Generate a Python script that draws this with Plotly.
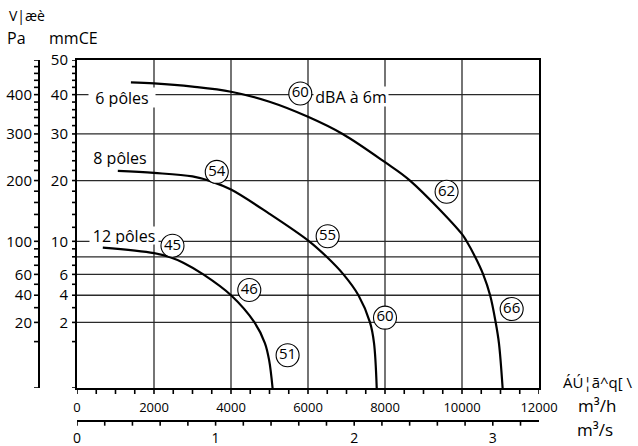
import numpy as np
import plotly.graph_objects as go

# ---------------- data (mmCE vs m3/h) ----------------
six_x = [1400, 2000, 3000, 4000, 5000, 6000, 6900, 8000, 8650, 10000, 10120, 10340, 10550, 10730, 10875, 10960, 11055]
six_y = [43.4, 43.1, 42.2, 40.8, 38.1, 34.2, 30.0, 23.7, 20.0, 11.0, 10.0, 8.0, 6.0, 4.0, 2.0, 0.93, 0.0]

eight_x = [1060, 2000, 3000, 3500, 4000, 5000, 6030, 6485, 6920, 7310, 7610, 7714, 7785]
eight_y = [21.9, 21.5, 20.8, 19.8, 18.3, 14.1, 10.0, 8.0, 6.0, 4.0, 2.0, 0.95, 0.0]

twelve_x = [670, 2000, 2420, 2760, 3280, 4000, 4610, 4880, 4990, 5080]
twelve_y = [9.15, 8.45, 7.95, 7.3, 6.0, 4.0, 2.0, 0.94, 0.36, 0.0]

# circled dBA values
db_x = [5800, 3630, 2480, 6510, 4475, 5470, 8000, 9600, 11290]
db_y = [40.3, 21.7, 9.4, 10.7, 4.46, 0.5, 2.3, 17.9, 2.9]
db_t = ["60", "54", "45", "55", "46", "51", "60", "62", "66"]

# axis ticks / grid
mmce_labels = [2, 4, 6, 10, 20, 30, 40, 50]
mmce_grid = [2, 4, 6, 8, 10, 20, 30, 40]
mmce_minor = list(range(0, 10)) + list(range(10, 51, 2))
pa_labels = [20, 40, 60, 100, 200, 300, 400]
pa_minor = list(range(0, 100, 10)) + list(range(100, 501, 20))
x_labels = [0, 2000, 4000, 6000, 8000, 10000, 12000]
x_grid = [2000, 4000, 6000, 8000, 10000]
x_minor = list(range(0, 12001, 500))
ms_labels = [0, 1, 2, 3]
ms_minor = [0, 0.2, 0.4, 0.6, 0.8, 1, 1.2, 1.4, 1.6, 1.8, 2, 2.2, 2.4, 2.6, 2.8, 3, 3.2]

# ---------------- layout helpers ----------------
W, H = 638, 446
ML, MR, MT, MB = 0, 99, 60, 0
PW = W - ML - MR
PH = H - MT - MB


def px(xp):
    return (xp - ML) / PW


def py(yp):
    return (H - MB - yp) / PH


sq = lambda v: np.sqrt(np.asarray(v, dtype=float))
FONT = "Open Sans"
YMAX = float(np.sqrt(50))
XMAX = 12000
MSMAX = 12000 / 3600
M3H_PER_M3S = 3600
GRID = dict(color="#2a2a2a", width=1.3)
TICK = dict(color="black", width=1.6)

X_AXIS_POS = py(388)      # m3/h axis (bottom of plot)
MS_AXIS_POS = py(420.7)   # m3/s axis
MMCE_AXIS_POS = px(77)    # mmCE axis (left of plot)
PA_AXIS_POS = px(39)      # Pa axis

fig = go.Figure()
line_style = dict(color="black", width=2.2, shape="spline", smoothing=1.0)
for xs, ys in [(six_x, six_y), (eight_x, eight_y), (twelve_x, twelve_y)]:
    fig.add_trace(go.Scatter(x=xs, y=sq(ys), mode="lines", line=line_style,
                             showlegend=False, hoverinfo="skip"))

fig.add_trace(go.Scatter(
    x=db_x, y=sq(db_y), mode="markers+text", text=db_t,
    textposition="middle center",
    textfont=dict(family=FONT, size=15, color="black"),
    marker=dict(symbol="circle", size=23, color="white",
                line=dict(color="black", width=1.1)),
    showlegend=False, hoverinfo="skip", cliponaxis=False))

# dummy trace so that the secondary axes are drawn
fig.add_trace(go.Scatter(x=[None], y=[None], xaxis="x2", yaxis="y2",
                         showlegend=False, hoverinfo="skip"))

# grid lines through the axes' data coordinates
for v in mmce_grid:
    fig.add_shape(type="line", xref="x", yref="y", x0=0, x1=XMAX,
                  y0=float(np.sqrt(v)), y1=float(np.sqrt(v)), line=GRID, layer="below")
for v in x_grid:
    fig.add_shape(type="line", xref="x", yref="y", x0=v, x1=v,
                  y0=0, y1=YMAX, line=GRID, layer="below")


# tick marks (data-anchored, pixel length)
def xtick(v, ypos, length):
    fig.add_shape(type="line", xref="x", x0=v, x1=v, yref="paper",
                  ysizemode="pixel", yanchor=ypos, y0=0, y1=-length, line=TICK)


def ytick(v, xpos, length):
    fig.add_shape(type="line", yref="y", y0=v, y1=v, xref="paper",
                  xsizemode="pixel", xanchor=xpos, x0=0, x1=-length, line=TICK)


for v in x_minor:
    xtick(v, X_AXIS_POS, 6)
for v in ms_minor:
    xtick(v * M3H_PER_M3S, MS_AXIS_POS, 5)
for v in mmce_minor:
    ytick(float(np.sqrt(v)), MMCE_AXIS_POS, 5)
for v in pa_minor:
    ytick(float(np.sqrt(v / 10)), PA_AXIS_POS, 5)

xdom = [px(77), px(539)]
ydom = [py(388), py(60)]
common = dict(zeroline=False, fixedrange=True, showgrid=False, tickmode="array", ticks="")

fig.update_layout(
    width=W, height=H,
    margin=dict(l=ML, r=MR, t=MT, b=MB, autoexpand=False),
    paper_bgcolor="white", plot_bgcolor="white",
    font=dict(family=FONT, color="black"),
    xaxis=dict(domain=xdom, range=[0, XMAX], tickvals=x_labels,
               ticktext=[str(v) for v in x_labels], ticklabelstandoff=6,
               tickfont=dict(size=13),
               showline=True, linecolor="black", linewidth=2, mirror=True, **common),
    yaxis=dict(domain=ydom, range=[0, YMAX], tickvals=[float(v) for v in sq(mmce_labels)],
               ticktext=[str(v) for v in mmce_labels], ticklabelstandoff=4,
               tickfont=dict(size=15),
               showline=True, linecolor="black", linewidth=2, mirror=True, **common),
    yaxis2=dict(overlaying="y", anchor="free", position=PA_AXIS_POS, side="left",
                range=[0, YMAX], tickvals=[float(v) for v in sq(np.array(pa_labels) / 10)],
                ticktext=[str(v) for v in pa_labels], ticklabelstandoff=3,
                tickfont=dict(size=15),
                showline=True, linecolor="black", linewidth=2, **common),
    xaxis2=dict(overlaying="x", anchor="free", position=MS_AXIS_POS, side="bottom",
                range=[0, MSMAX], tickvals=ms_labels,
                ticktext=[str(v) for v in ms_labels], ticklabelstandoff=5,
                tickfont=dict(size=14),
                showline=True, linecolor="black", linewidth=1.5, **common),
)

ann = []


def add_text(text, xp, yp, size=14, xanchor="center", bg=None, width=None, height=None):
    d = dict(text=text, x=px(xp), y=py(yp), xref="paper", yref="paper",
             xanchor=xanchor, yanchor="middle", showarrow=False,
             font=dict(family=FONT, size=size, color="black"))
    if bg:
        d.update(bgcolor=bg, borderpad=0)
    if width:
        d["width"] = width
    if height:
        d["height"] = height
    ann.append(d)


add_text("6 pôles", 122, 97, 16, bg="white", width=66, height=19)
add_text("8 pôles", 120, 157, 16, bg="white", width=62, height=19)
add_text("12 pôles", 124, 236, 16, bg="white", width=68, height=17)
add_text("dBA à 6m", 351, 96, 16, bg="white", width=74, height=19)

add_text("V|æè", 7, 15, 14, xanchor="left")
add_text("Pa", 5, 38, 16, xanchor="left")
add_text("mmCE", 47, 38, 16, xanchor="left")
add_text("ÁÚ¦ã^q[ \\", 561, 382, 15, xanchor="left")
add_text("m³/h", 597, 405, 17)
add_text("m³/s", 595, 429, 17)

fig.update_layout(annotations=ann)

fig.write_html("out.html")
